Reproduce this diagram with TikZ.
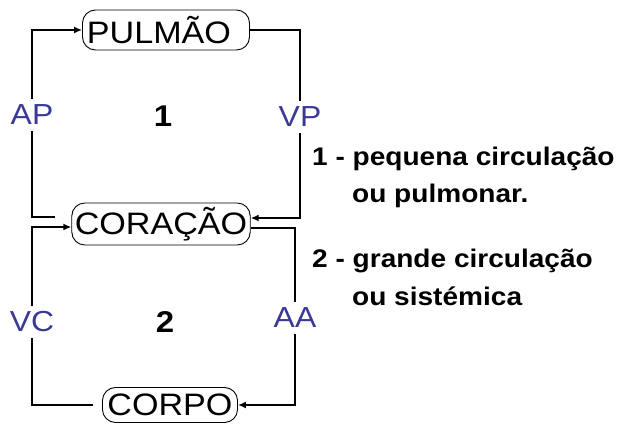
\documentclass[tikz,border=0pt]{standalone}
\usepackage{fontspec}
\setmainfont{Liberation Sans}[FakeStretch=1.1]
\usepackage{xcolor}
\usepackage{tikz}
\usetikzlibrary{arrows.meta, positioning}
\definecolor{vesselblue}{RGB}{58,58,150}
\tikzstyle{organ}   = [draw, rounded corners=13pt, line width=0.9pt, inner xsep=3pt, inner ysep=1pt, minimum height=38pt, font=\fontsize{31}{36}\selectfont]
\tikzstyle{vessel}  = [text=vesselblue, inner sep=6pt, font=\fontsize{29}{34}\selectfont]
\tikzstyle{loopno}  = [font=\bfseries\fontsize{30}{36}\selectfont]
\tikzstyle{caption} = [anchor=base west, inner sep=0pt, font=\bfseries\fontsize{25.5}{30}\selectfont]
\tikzstyle{flow}    = [line width=2.8pt]
\tikzstyle{arrow}   = [-{Latex[length=8pt,width=7pt]}, line width=2.8pt]

\begin{document}
\begin{tikzpicture}[x=1pt, y=-1pt]
    \useasboundingbox (0,0) rectangle (625,426);

    \node (pulmao) [organ, minimum width=167pt, minimum height=40pt] at (166,30) {PULMÃO\hspace*{14pt}};
    \node (coracao) [organ, minimum height=42pt] at (161,224) {CORAÇÃO};
    \node (corpo) [organ, inner xsep=5pt, minimum height=35pt] at (170,405) {CORPO};

    \node (ap) [vessel] at (32,115) {AP};
    \node (vp) [vessel] at (300,117) {VP};
    \node (vc) [vessel] at (32,322) {VC};
    \node (aa) [vessel] at (295,318) {AA};

    \node (one) [loopno] at (163,116) {1};
    \node (two) [loopno] at (165,322) {2};

    \coordinate (apfoot) at (55,217);
    \coordinate (vcfoot) at (93,405);

    % pequena circulacao
    \draw [flow] (apfoot) -| (ap.south);
    \draw [arrow] (ap.north) |- (pulmao.west);
    \draw [flow] (pulmao.east) -| (vp.north);
    \draw [arrow] (vp.south) |- ([yshift=6pt]coracao.east);

    % grande circulacao
    \draw [flow] ([yshift=-4pt]coracao.east) -| (aa.north);
    \draw [arrow] (aa.south) |- (corpo.east);
    \draw [flow] (vcfoot) -| (vc.south);
    \draw [arrow] (vc.north) |- ([yshift=-3pt]coracao.west);

    \node (cap1) [caption] at (312,165) {1 - pequena circulação};
    \node (cap1b) [caption] at (352,202) {ou pulmonar.};
    \node (cap2) [caption] at (312,267) {2 - grande circulação};
    \node (cap2b) [caption] at (352,305) {ou sistémica};
\end{tikzpicture}
\end{document}
